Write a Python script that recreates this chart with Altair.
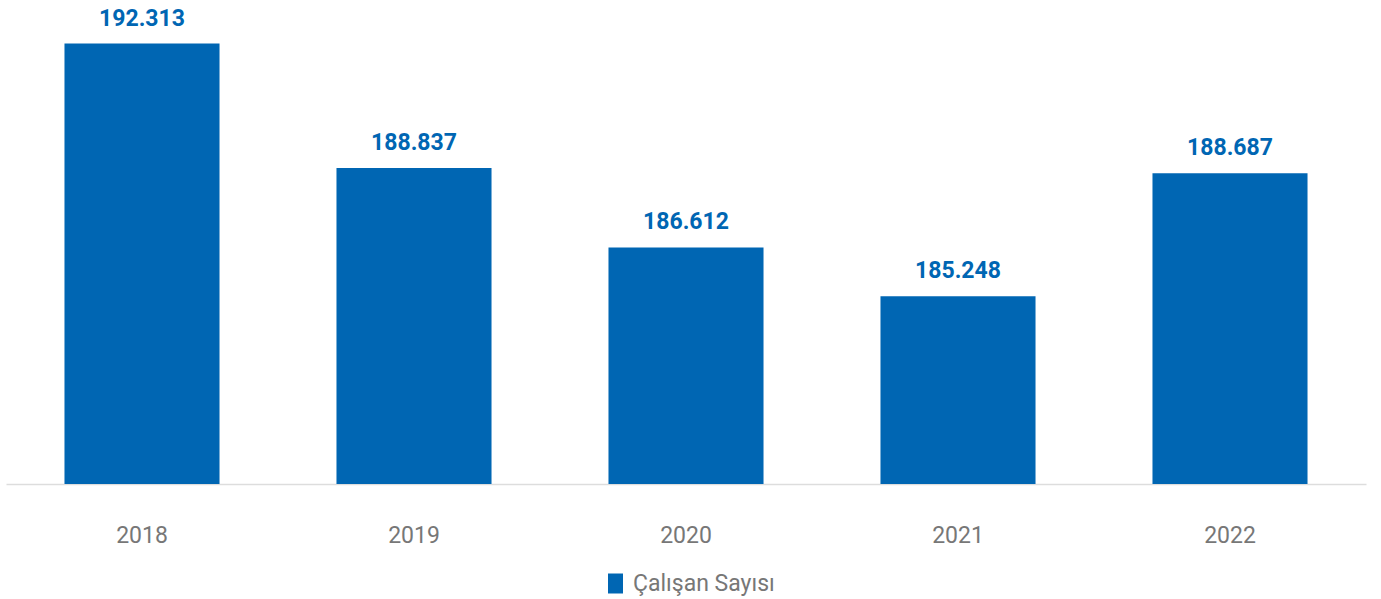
import altair as alt
import pandas as pd

years = ["2018", "2019", "2020", "2021", "2022"]
values = [192313, 188837, 186612, 185248, 188687]
labels = ["192.313", "188.837", "186.612", "185.248", "188.687"]
series = ["Çalışan Sayısı"] * 5

df = pd.DataFrame({"Yıl": years, "Değer": values, "Etiket": labels, "Seri": series})

blue = "#0066B3"

base = alt.Chart(df).encode(
    x=alt.X("Yıl:N", sort=years,
            scale=alt.Scale(paddingInner=0.43, paddingOuter=0.215),
            axis=alt.Axis(title=None, labelAngle=0, labelFont="Roboto", labelFontSize=23,
                          labelColor="#777777", labelPadding=40, ticks=False,
                          domainColor="#dddddd", domainWidth=1.5, grid=False)),
    y=alt.Y("Değer:Q", scale=alt.Scale(domain=[180000, 193000], zero=False, nice=False),
            axis=None),
)

bars = base.mark_bar(color=blue, clip=True).encode(
    color=alt.Color("Seri:N", scale=alt.Scale(range=[blue]),
                    legend=alt.Legend(title=None, orient="none", legendX=598, legendY=553,
                                      direction="horizontal",
                                      symbolType="M-0.75,-1L0.75,-1L0.75,1L-0.75,1Z",
                                      symbolSize=400, symbolStrokeWidth=0, symbolOpacity=1,
                                      labelFont="Roboto", labelFontSize=23, labelColor="#777777",
                                      labelOffset=6))
)

text = base.mark_text(baseline="bottom", dy=-13, font="Roboto", fontSize=23,
                      fontWeight="bold", color=blue).encode(text="Etiket:N")

chart = (bars + text).properties(
    width=1360, height=465,
    autosize=alt.AutoSizeParams(type="none"),
    padding={"left": 6, "top": 19, "right": 15, "bottom": 115},
).configure_view(stroke=None)

chart.save("out.html", embed_options={"renderer": "svg", "actions": False})
